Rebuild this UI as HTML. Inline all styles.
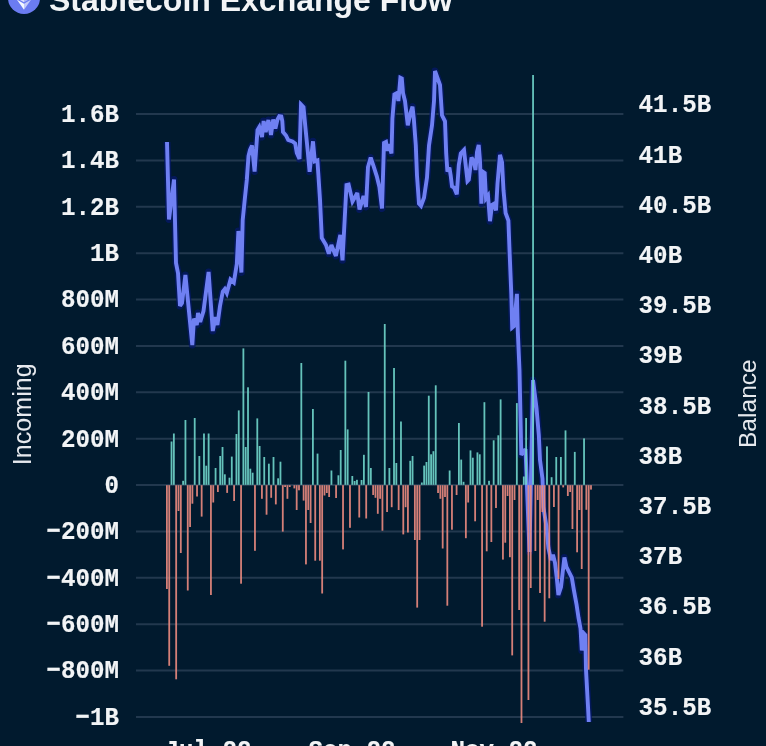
<!DOCTYPE html>
<html><head><meta charset="utf-8"><title>Stablecoin Exchange Flow</title>
<style>
html,body{margin:0;padding:0;}
body{width:766px;height:746px;overflow:hidden;background:#011a2e;position:relative;}
.ax{font-family:"Liberation Mono","DejaVu Sans Mono",monospace;font-weight:bold;font-size:24.2px;fill:#f2f4f6;stroke:#f2f4f6;stroke-width:0.15px;}
.tt{font-family:"Liberation Sans",Arial,sans-serif;font-size:24px;fill:#e6e9ee;}
.title{position:absolute;left:49px;top:-20.4px;font-family:"Liberation Sans",Arial,sans-serif;font-weight:bold;font-size:32px;color:#f2f4f6;white-space:nowrap;line-height:40px;}
.logo{position:absolute;left:8px;top:-18px;width:32px;height:32px;}
</style></head><body>
<svg class="logo" viewBox="0 0 32 32"><circle cx="16" cy="16" r="16" fill="#6b7cf2"/><path d="M16 4 L9 16.2 L16 20.3 Z" fill="#ffffff" opacity="0.75"/><path d="M16 4 L23 16.2 L16 20.3 Z" fill="#ffffff" opacity="0.45"/><path d="M16 21.8 L8.8 17.5 L16 27.8 Z" fill="#f4f8ff"/><path d="M16 21.8 L23.2 17.5 L16 27.8 Z" fill="#ffffff" opacity="0.6"/></svg>
<div class="title">Stablecoin Exchange Flow</div>
<svg width="766" height="746" viewBox="0 0 766 746" style="position:absolute;left:0;top:0"><line x1="136.0" x2="623.4" y1="114.00" y2="114.00" stroke="#22384e" stroke-width="2"/><line x1="136.0" x2="623.4" y1="160.38" y2="160.38" stroke="#22384e" stroke-width="2"/><line x1="136.0" x2="623.4" y1="206.76" y2="206.76" stroke="#22384e" stroke-width="2"/><line x1="136.0" x2="623.4" y1="253.14" y2="253.14" stroke="#22384e" stroke-width="2"/><line x1="136.0" x2="623.4" y1="299.52" y2="299.52" stroke="#22384e" stroke-width="2"/><line x1="136.0" x2="623.4" y1="345.90" y2="345.90" stroke="#22384e" stroke-width="2"/><line x1="136.0" x2="623.4" y1="392.28" y2="392.28" stroke="#22384e" stroke-width="2"/><line x1="136.0" x2="623.4" y1="438.66" y2="438.66" stroke="#22384e" stroke-width="2"/><line x1="136.0" x2="623.4" y1="485.04" y2="485.04" stroke="#22384e" stroke-width="2"/><line x1="136.0" x2="623.4" y1="531.42" y2="531.42" stroke="#22384e" stroke-width="2"/><line x1="136.0" x2="623.4" y1="577.80" y2="577.80" stroke="#22384e" stroke-width="2"/><line x1="136.0" x2="623.4" y1="624.18" y2="624.18" stroke="#22384e" stroke-width="2"/><line x1="136.0" x2="623.4" y1="670.56" y2="670.56" stroke="#22384e" stroke-width="2"/><line x1="136.0" x2="623.4" y1="716.94" y2="716.94" stroke="#22384e" stroke-width="2"/><polyline points="167.0,142.0 169.0,219.5 174.0,179.5 176.0,263.0 178.0,273.0 180.0,306.0 182.0,303.0 185.4,275.0 192.3,345.0 194.0,318.6 196.8,325.0 198.0,313.0 200.2,322.0 203.5,311.0 208.6,272.0 210.5,299.0 212.8,331.0 215.4,317.0 217.4,325.0 220.0,306.0 222.8,291.5 224.8,289.0 226.8,293.0 230.5,279.5 233.8,282.5 236.8,264.0 238.4,231.0 241.4,272.5 242.7,220.0 244.7,200.0 246.8,180.0 248.5,156.0 250.0,150.0 252.0,145.5 254.6,171.5 257.5,130.0 259.3,127.0 262.0,137.0 263.6,121.0 265.7,132.0 268.4,120.0 271.0,135.0 273.2,119.5 275.4,128.5 277.5,119.5 279.3,116.2 281.3,116.5 282.3,121.0 283.0,132.0 286.0,135.5 288.2,140.0 292.5,141.5 295.2,143.5 296.8,153.0 299.5,159.0 301.0,104.4 303.5,107.0 305.5,128.5 307.5,148.6 309.6,171.8 313.0,141.3 314.8,161.4 317.4,160.5 318.3,173.6 320.0,199.7 321.8,238.0 326.0,245.0 328.8,253.7 331.4,245.0 334.9,253.7 335.9,255.9 338.1,245.5 340.3,235.0 342.5,260.3 344.7,219.0 346.5,185.0 348.6,184.5 352.5,201.5 357.3,193.0 359.5,209.5 361.5,203.0 363.5,196.0 366.0,207.0 368.0,167.0 370.7,157.5 373.4,165.6 376.8,176.3 379.4,187.0 382.0,208.5 384.0,143.0 386.0,142.0 387.5,151.0 388.8,144.0 391.5,153.5 392.4,118.6 394.4,94.5 397.0,93.0 398.4,101.0 400.4,77.7 401.8,78.4 403.0,93.0 405.0,101.0 407.8,125.3 410.5,113.0 412.5,106.6 413.8,118.6 415.8,145.4 417.0,175.6 419.0,203.7 421.0,205.8 424.0,197.7 427.0,177.6 429.0,145.4 432.0,125.3 434.0,101.2 435.0,71.0 440.0,85.0 442.0,115.3 445.0,121.3 446.2,153.5 447.4,171.6 449.4,167.5 450.7,175.6 452.0,186.3 454.0,187.6 456.8,194.3 458.8,164.9 460.8,153.5 464.0,150.0 465.5,163.5 467.5,181.0 468.8,179.6 471.5,157.5 474.0,162.0 475.5,170.0 477.0,152.0 478.7,145.0 480.0,160.8 481.4,203.7 482.7,171.6 484.7,173.0 486.0,198.4 488.0,195.7 490.0,221.2 492.0,205.0 494.0,203.7 496.0,210.4 497.5,183.6 500.0,154.8 502.0,162.0 503.5,190.3 505.6,213.0 508.4,220.6 509.4,247.0 511.3,293.8 512.2,327.6 514.0,326.0 516.9,293.8 517.8,331.4 519.5,370.0 521.3,455.0 525.5,449.0 529.5,552.0 533.0,380.0 536.5,408.0 538.8,435.0 540.0,460.0 542.5,478.8 543.4,507.0 546.3,525.7 548.4,548.0 551.0,560.0 553.0,554.7 555.0,562.8 557.0,580.0 558.4,595.0 561.0,587.0 564.4,557.4 566.4,566.8 569.0,572.0 571.8,577.5 573.8,589.6 576.5,604.3 578.5,617.7 580.5,628.5 581.8,650.5 583.5,633.0 585.3,635.0 586.0,669.7 587.9,704.6 588.8,722.0" fill="none" stroke="#06186a" stroke-opacity="0.75" stroke-width="7" stroke-linejoin="round"/><polyline points="167.0,142.0 169.0,219.5 174.0,179.5 176.0,263.0 178.0,273.0 180.0,306.0 182.0,303.0 185.4,275.0 192.3,345.0 194.0,318.6 196.8,325.0 198.0,313.0 200.2,322.0 203.5,311.0 208.6,272.0 210.5,299.0 212.8,331.0 215.4,317.0 217.4,325.0 220.0,306.0 222.8,291.5 224.8,289.0 226.8,293.0 230.5,279.5 233.8,282.5 236.8,264.0 238.4,231.0 241.4,272.5 242.7,220.0 244.7,200.0 246.8,180.0 248.5,156.0 250.0,150.0 252.0,145.5 254.6,171.5 257.5,130.0 259.3,127.0 262.0,137.0 263.6,121.0 265.7,132.0 268.4,120.0 271.0,135.0 273.2,119.5 275.4,128.5 277.5,119.5 279.3,116.2 281.3,116.5 282.3,121.0 283.0,132.0 286.0,135.5 288.2,140.0 292.5,141.5 295.2,143.5 296.8,153.0 299.5,159.0 301.0,104.4 303.5,107.0 305.5,128.5 307.5,148.6 309.6,171.8 313.0,141.3 314.8,161.4 317.4,160.5 318.3,173.6 320.0,199.7 321.8,238.0 326.0,245.0 328.8,253.7 331.4,245.0 334.9,253.7 335.9,255.9 338.1,245.5 340.3,235.0 342.5,260.3 344.7,219.0 346.5,185.0 348.6,184.5 352.5,201.5 357.3,193.0 359.5,209.5 361.5,203.0 363.5,196.0 366.0,207.0 368.0,167.0 370.7,157.5 373.4,165.6 376.8,176.3 379.4,187.0 382.0,208.5 384.0,143.0 386.0,142.0 387.5,151.0 388.8,144.0 391.5,153.5 392.4,118.6 394.4,94.5 397.0,93.0 398.4,101.0 400.4,77.7 401.8,78.4 403.0,93.0 405.0,101.0 407.8,125.3 410.5,113.0 412.5,106.6 413.8,118.6 415.8,145.4 417.0,175.6 419.0,203.7 421.0,205.8 424.0,197.7 427.0,177.6 429.0,145.4 432.0,125.3 434.0,101.2 435.0,71.0 440.0,85.0 442.0,115.3 445.0,121.3 446.2,153.5 447.4,171.6 449.4,167.5 450.7,175.6 452.0,186.3 454.0,187.6 456.8,194.3 458.8,164.9 460.8,153.5 464.0,150.0 465.5,163.5 467.5,181.0 468.8,179.6 471.5,157.5 474.0,162.0 475.5,170.0 477.0,152.0 478.7,145.0 480.0,160.8 481.4,203.7 482.7,171.6 484.7,173.0 486.0,198.4 488.0,195.7 490.0,221.2 492.0,205.0 494.0,203.7 496.0,210.4 497.5,183.6 500.0,154.8 502.0,162.0 503.5,190.3 505.6,213.0 508.4,220.6 509.4,247.0 511.3,293.8 512.2,327.6 514.0,326.0 516.9,293.8 517.8,331.4 519.5,370.0 521.3,455.0 525.5,449.0 529.5,552.0 533.0,380.0 536.5,408.0 538.8,435.0 540.0,460.0 542.5,478.8 543.4,507.0 546.3,525.7 548.4,548.0 551.0,560.0 553.0,554.7 555.0,562.8 557.0,580.0 558.4,595.0 561.0,587.0 564.4,557.4 566.4,566.8 569.0,572.0 571.8,577.5 573.8,589.6 576.5,604.3 578.5,617.7 580.5,628.5 581.8,650.5 583.5,633.0 585.3,635.0 586.0,669.7 587.9,704.6 588.8,722.0" fill="none" stroke="#6f80f2" stroke-width="3.9" stroke-linejoin="miter" stroke-miterlimit="3" stroke-linecap="butt"/><g opacity="0.9"><rect x="166.00" y="485.2" width="1.8" height="103.8" fill="#ec8b80"/><rect x="168.32" y="485.2" width="1.8" height="180.6" fill="#ec8b80"/><rect x="170.63" y="441.5" width="1.8" height="43.3" fill="#70d6cb"/><rect x="172.95" y="433.5" width="1.8" height="51.3" fill="#70d6cb"/><rect x="175.27" y="485.2" width="1.8" height="194.1" fill="#ec8b80"/><rect x="177.59" y="485.2" width="1.8" height="25.8" fill="#ec8b80"/><rect x="179.91" y="485.2" width="1.8" height="67.8" fill="#ec8b80"/><rect x="182.22" y="480.8" width="1.8" height="4.0" fill="#70d6cb"/><rect x="184.54" y="420.0" width="1.8" height="64.8" fill="#70d6cb"/><rect x="186.86" y="485.2" width="1.8" height="105.3" fill="#ec8b80"/><rect x="189.17" y="485.2" width="1.8" height="41.8" fill="#ec8b80"/><rect x="191.49" y="485.2" width="1.8" height="18.5" fill="#ec8b80"/><rect x="193.81" y="418.0" width="1.8" height="66.8" fill="#70d6cb"/><rect x="196.13" y="485.2" width="1.8" height="11.3" fill="#ec8b80"/><rect x="198.44" y="456.0" width="1.8" height="28.8" fill="#70d6cb"/><rect x="200.76" y="485.2" width="1.8" height="31.4" fill="#ec8b80"/><rect x="203.08" y="433.5" width="1.8" height="51.3" fill="#70d6cb"/><rect x="205.40" y="465.7" width="1.8" height="19.1" fill="#70d6cb"/><rect x="207.72" y="433.5" width="1.8" height="51.3" fill="#70d6cb"/><rect x="210.03" y="485.2" width="1.8" height="109.8" fill="#ec8b80"/><rect x="212.35" y="485.2" width="1.8" height="17.3" fill="#ec8b80"/><rect x="214.67" y="468.0" width="1.8" height="16.8" fill="#70d6cb"/><rect x="216.98" y="485.2" width="1.8" height="6.8" fill="#ec8b80"/><rect x="219.30" y="456.0" width="1.8" height="28.8" fill="#70d6cb"/><rect x="221.62" y="447.0" width="1.8" height="37.8" fill="#70d6cb"/><rect x="223.94" y="474.3" width="1.8" height="10.5" fill="#70d6cb"/><rect x="226.25" y="485.2" width="1.8" height="7.7" fill="#ec8b80"/><rect x="228.57" y="477.7" width="1.8" height="7.1" fill="#70d6cb"/><rect x="230.89" y="456.6" width="1.8" height="28.2" fill="#70d6cb"/><rect x="233.21" y="485.2" width="1.8" height="15.8" fill="#ec8b80"/><rect x="235.53" y="434.0" width="1.8" height="50.8" fill="#70d6cb"/><rect x="237.84" y="410.4" width="1.8" height="74.4" fill="#70d6cb"/><rect x="240.16" y="485.2" width="1.8" height="98.5" fill="#ec8b80"/><rect x="242.48" y="348.4" width="1.8" height="136.4" fill="#70d6cb"/><rect x="244.79" y="447.0" width="1.8" height="37.8" fill="#70d6cb"/><rect x="247.11" y="387.3" width="1.8" height="97.5" fill="#70d6cb"/><rect x="249.43" y="468.7" width="1.8" height="16.1" fill="#70d6cb"/><rect x="251.75" y="472.7" width="1.8" height="12.1" fill="#70d6cb"/><rect x="254.06" y="485.2" width="1.8" height="65.6" fill="#ec8b80"/><rect x="256.38" y="418.4" width="1.8" height="66.4" fill="#70d6cb"/><rect x="258.70" y="446.0" width="1.8" height="38.8" fill="#70d6cb"/><rect x="261.02" y="485.2" width="1.8" height="13.6" fill="#ec8b80"/><rect x="263.34" y="457.0" width="1.8" height="27.8" fill="#70d6cb"/><rect x="265.65" y="485.2" width="1.8" height="29.5" fill="#ec8b80"/><rect x="267.97" y="463.7" width="1.8" height="21.1" fill="#70d6cb"/><rect x="270.29" y="485.2" width="1.8" height="12.6" fill="#ec8b80"/><rect x="272.61" y="457.0" width="1.8" height="27.8" fill="#70d6cb"/><rect x="274.92" y="485.2" width="1.8" height="19.2" fill="#ec8b80"/><rect x="277.24" y="478.3" width="1.8" height="6.5" fill="#70d6cb"/><rect x="279.56" y="461.7" width="1.8" height="23.1" fill="#70d6cb"/><rect x="281.88" y="485.2" width="1.8" height="46.4" fill="#ec8b80"/><rect x="284.19" y="485.2" width="1.8" height="1.8" fill="#ec8b80"/><rect x="286.51" y="485.2" width="1.8" height="13.6" fill="#ec8b80"/><rect x="288.83" y="485.2" width="1.8" height="1.8" fill="#ec8b80"/><rect x="293.46" y="485.2" width="1.8" height="3.2" fill="#ec8b80"/><rect x="295.78" y="485.2" width="1.8" height="24.8" fill="#ec8b80"/><rect x="298.10" y="485.2" width="1.8" height="5.1" fill="#ec8b80"/><rect x="300.42" y="363.0" width="1.8" height="121.8" fill="#70d6cb"/><rect x="302.73" y="485.2" width="1.8" height="15.4" fill="#ec8b80"/><rect x="305.05" y="485.2" width="1.8" height="79.2" fill="#ec8b80"/><rect x="307.37" y="485.2" width="1.8" height="24.8" fill="#ec8b80"/><rect x="309.69" y="485.2" width="1.8" height="37.8" fill="#ec8b80"/><rect x="312.00" y="409.0" width="1.8" height="75.8" fill="#70d6cb"/><rect x="314.32" y="485.2" width="1.8" height="75.5" fill="#ec8b80"/><rect x="316.64" y="453.6" width="1.8" height="31.2" fill="#70d6cb"/><rect x="318.96" y="485.2" width="1.8" height="75.5" fill="#ec8b80"/><rect x="321.27" y="485.2" width="1.8" height="108.3" fill="#ec8b80"/><rect x="323.59" y="485.2" width="1.8" height="10.3" fill="#ec8b80"/><rect x="325.91" y="485.2" width="1.8" height="7.8" fill="#ec8b80"/><rect x="328.23" y="485.2" width="1.8" height="11.8" fill="#ec8b80"/><rect x="330.54" y="470.5" width="1.8" height="14.3" fill="#70d6cb"/><rect x="335.18" y="485.2" width="1.8" height="12.8" fill="#ec8b80"/><rect x="337.50" y="475.3" width="1.8" height="9.5" fill="#70d6cb"/><rect x="339.81" y="450.0" width="1.8" height="34.8" fill="#70d6cb"/><rect x="342.13" y="485.2" width="1.8" height="64.2" fill="#ec8b80"/><rect x="344.45" y="360.7" width="1.8" height="124.1" fill="#70d6cb"/><rect x="346.76" y="429.4" width="1.8" height="55.4" fill="#70d6cb"/><rect x="349.08" y="485.2" width="1.8" height="42.6" fill="#ec8b80"/><rect x="351.40" y="476.0" width="1.8" height="8.8" fill="#70d6cb"/><rect x="353.72" y="481.0" width="1.8" height="3.8" fill="#70d6cb"/><rect x="356.04" y="479.8" width="1.8" height="5.0" fill="#70d6cb"/><rect x="358.35" y="485.2" width="1.8" height="32.3" fill="#ec8b80"/><rect x="360.67" y="480.0" width="1.8" height="4.8" fill="#70d6cb"/><rect x="362.99" y="454.8" width="1.8" height="30.0" fill="#70d6cb"/><rect x="365.31" y="485.2" width="1.8" height="33.3" fill="#ec8b80"/><rect x="367.62" y="392.0" width="1.8" height="92.8" fill="#70d6cb"/><rect x="369.94" y="468.0" width="1.8" height="16.8" fill="#70d6cb"/><rect x="372.26" y="485.2" width="1.8" height="9.8" fill="#ec8b80"/><rect x="374.58" y="485.2" width="1.8" height="12.6" fill="#ec8b80"/><rect x="376.89" y="485.2" width="1.8" height="28.6" fill="#ec8b80"/><rect x="379.21" y="485.2" width="1.8" height="13.6" fill="#ec8b80"/><rect x="381.53" y="485.2" width="1.8" height="45.5" fill="#ec8b80"/><rect x="383.85" y="324.0" width="1.8" height="160.8" fill="#70d6cb"/><rect x="386.16" y="485.2" width="1.8" height="26.8" fill="#ec8b80"/><rect x="388.48" y="468.0" width="1.8" height="16.8" fill="#70d6cb"/><rect x="390.80" y="485.2" width="1.8" height="22.0" fill="#ec8b80"/><rect x="393.12" y="368.0" width="1.8" height="116.8" fill="#70d6cb"/><rect x="395.43" y="463.0" width="1.8" height="21.8" fill="#70d6cb"/><rect x="397.75" y="485.2" width="1.8" height="24.8" fill="#ec8b80"/><rect x="400.07" y="421.5" width="1.8" height="63.3" fill="#70d6cb"/><rect x="402.38" y="485.2" width="1.8" height="49.2" fill="#ec8b80"/><rect x="404.70" y="485.2" width="1.8" height="22.0" fill="#ec8b80"/><rect x="407.02" y="485.2" width="1.8" height="47.3" fill="#ec8b80"/><rect x="409.34" y="460.8" width="1.8" height="24.0" fill="#70d6cb"/><rect x="411.66" y="456.0" width="1.8" height="28.8" fill="#70d6cb"/><rect x="413.97" y="485.2" width="1.8" height="54.8" fill="#ec8b80"/><rect x="416.29" y="485.2" width="1.8" height="122.4" fill="#ec8b80"/><rect x="418.61" y="485.2" width="1.8" height="54.8" fill="#ec8b80"/><rect x="420.93" y="482.5" width="1.8" height="2.3" fill="#70d6cb"/><rect x="423.24" y="465.6" width="1.8" height="19.2" fill="#70d6cb"/><rect x="425.56" y="462.0" width="1.8" height="22.8" fill="#70d6cb"/><rect x="427.88" y="395.7" width="1.8" height="89.1" fill="#70d6cb"/><rect x="430.20" y="454.3" width="1.8" height="30.5" fill="#70d6cb"/><rect x="432.51" y="451.2" width="1.8" height="33.6" fill="#70d6cb"/><rect x="434.83" y="385.3" width="1.8" height="99.5" fill="#70d6cb"/><rect x="437.15" y="485.2" width="1.8" height="7.8" fill="#ec8b80"/><rect x="439.47" y="485.2" width="1.8" height="13.6" fill="#ec8b80"/><rect x="441.78" y="485.2" width="1.8" height="63.3" fill="#ec8b80"/><rect x="444.10" y="485.2" width="1.8" height="11.8" fill="#ec8b80"/><rect x="446.42" y="485.2" width="1.8" height="120.5" fill="#ec8b80"/><rect x="448.74" y="470.5" width="1.8" height="14.3" fill="#70d6cb"/><rect x="451.05" y="485.2" width="1.8" height="44.5" fill="#ec8b80"/><rect x="455.69" y="485.2" width="1.8" height="9.8" fill="#ec8b80"/><rect x="458.00" y="423.0" width="1.8" height="61.8" fill="#70d6cb"/><rect x="460.32" y="459.6" width="1.8" height="25.2" fill="#70d6cb"/><rect x="462.64" y="481.8" width="1.8" height="3.0" fill="#70d6cb"/><rect x="464.96" y="485.2" width="1.8" height="53.0" fill="#ec8b80"/><rect x="467.27" y="485.2" width="1.8" height="17.3" fill="#ec8b80"/><rect x="469.59" y="450.4" width="1.8" height="34.4" fill="#70d6cb"/><rect x="471.91" y="457.7" width="1.8" height="27.1" fill="#70d6cb"/><rect x="474.23" y="485.2" width="1.8" height="36.1" fill="#ec8b80"/><rect x="476.54" y="452.4" width="1.8" height="32.4" fill="#70d6cb"/><rect x="478.86" y="454.3" width="1.8" height="30.5" fill="#70d6cb"/><rect x="481.18" y="485.2" width="1.8" height="141.5" fill="#ec8b80"/><rect x="483.50" y="402.2" width="1.8" height="82.6" fill="#70d6cb"/><rect x="485.82" y="485.2" width="1.8" height="66.1" fill="#ec8b80"/><rect x="488.13" y="480.8" width="1.8" height="4.0" fill="#70d6cb"/><rect x="490.45" y="485.2" width="1.8" height="56.8" fill="#ec8b80"/><rect x="492.77" y="440.3" width="1.8" height="44.5" fill="#70d6cb"/><rect x="495.09" y="485.2" width="1.8" height="22.8" fill="#ec8b80"/><rect x="497.40" y="435.3" width="1.8" height="49.5" fill="#70d6cb"/><rect x="499.72" y="399.4" width="1.8" height="85.4" fill="#70d6cb"/><rect x="502.04" y="485.2" width="1.8" height="74.4" fill="#ec8b80"/><rect x="504.36" y="485.2" width="1.8" height="57.5" fill="#ec8b80"/><rect x="506.67" y="485.2" width="1.8" height="10.8" fill="#ec8b80"/><rect x="508.99" y="485.2" width="1.8" height="72.0" fill="#ec8b80"/><rect x="511.31" y="485.2" width="1.8" height="170.2" fill="#ec8b80"/><rect x="513.62" y="485.2" width="1.8" height="14.8" fill="#ec8b80"/><rect x="515.94" y="403.1" width="1.8" height="81.7" fill="#70d6cb"/><rect x="518.26" y="485.2" width="1.8" height="124.8" fill="#ec8b80"/><rect x="520.58" y="485.2" width="1.8" height="237.8" fill="#ec8b80"/><rect x="522.89" y="476.5" width="1.8" height="8.3" fill="#70d6cb"/><rect x="525.21" y="418.0" width="1.8" height="66.8" fill="#70d6cb"/><rect x="527.53" y="485.2" width="1.8" height="214.8" fill="#ec8b80"/><rect x="529.85" y="485.2" width="1.8" height="102.8" fill="#ec8b80"/><rect x="532.16" y="75.0" width="1.8" height="409.8" fill="#70d6cb"/><rect x="534.48" y="485.2" width="1.8" height="65.8" fill="#ec8b80"/><rect x="536.80" y="485.2" width="1.8" height="14.8" fill="#ec8b80"/><rect x="539.12" y="485.2" width="1.8" height="107.8" fill="#ec8b80"/><rect x="541.44" y="485.2" width="1.8" height="26.8" fill="#ec8b80"/><rect x="543.75" y="485.2" width="1.8" height="136.5" fill="#ec8b80"/><rect x="546.07" y="446.4" width="1.8" height="38.4" fill="#70d6cb"/><rect x="548.39" y="485.2" width="1.8" height="113.1" fill="#ec8b80"/><rect x="550.71" y="477.2" width="1.8" height="7.6" fill="#70d6cb"/><rect x="553.02" y="485.2" width="1.8" height="21.8" fill="#ec8b80"/><rect x="555.34" y="457.0" width="1.8" height="27.8" fill="#70d6cb"/><rect x="557.66" y="485.2" width="1.8" height="93.8" fill="#ec8b80"/><rect x="559.98" y="457.0" width="1.8" height="27.8" fill="#70d6cb"/><rect x="562.29" y="485.2" width="1.8" height="2.2" fill="#ec8b80"/><rect x="564.61" y="430.4" width="1.8" height="54.4" fill="#70d6cb"/><rect x="566.93" y="485.2" width="1.8" height="10.8" fill="#ec8b80"/><rect x="569.25" y="485.2" width="1.8" height="6.8" fill="#ec8b80"/><rect x="571.56" y="485.2" width="1.8" height="43.8" fill="#ec8b80"/><rect x="573.88" y="451.9" width="1.8" height="32.9" fill="#70d6cb"/><rect x="576.20" y="485.2" width="1.8" height="67.1" fill="#ec8b80"/><rect x="578.51" y="485.2" width="1.8" height="24.8" fill="#ec8b80"/><rect x="580.83" y="485.2" width="1.8" height="83.8" fill="#ec8b80"/><rect x="583.15" y="438.4" width="1.8" height="46.4" fill="#70d6cb"/><rect x="585.47" y="485.2" width="1.8" height="24.6" fill="#ec8b80"/><rect x="587.78" y="485.2" width="1.8" height="184.5" fill="#ec8b80"/><rect x="590.10" y="485.2" width="1.8" height="4.4" fill="#ec8b80"/></g><text transform="translate(119.0 115.10) scale(1 1.08)" class="ax" text-anchor="end" dominant-baseline="central">1.6B</text><text transform="translate(119.0 161.48) scale(1 1.08)" class="ax" text-anchor="end" dominant-baseline="central">1.4B</text><text transform="translate(119.0 207.86) scale(1 1.08)" class="ax" text-anchor="end" dominant-baseline="central">1.2B</text><text transform="translate(119.0 254.24) scale(1 1.08)" class="ax" text-anchor="end" dominant-baseline="central">1B</text><text transform="translate(119.0 300.62) scale(1 1.08)" class="ax" text-anchor="end" dominant-baseline="central">800M</text><text transform="translate(119.0 347.00) scale(1 1.08)" class="ax" text-anchor="end" dominant-baseline="central">600M</text><text transform="translate(119.0 393.38) scale(1 1.08)" class="ax" text-anchor="end" dominant-baseline="central">400M</text><text transform="translate(119.0 439.76) scale(1 1.08)" class="ax" text-anchor="end" dominant-baseline="central">200M</text><text transform="translate(119.0 486.14) scale(1 1.08)" class="ax" text-anchor="end" dominant-baseline="central">0</text><text transform="translate(119.0 532.52) scale(1 1.08)" class="ax" text-anchor="end" dominant-baseline="central">−200M</text><text transform="translate(119.0 578.90) scale(1 1.08)" class="ax" text-anchor="end" dominant-baseline="central">−400M</text><text transform="translate(119.0 625.28) scale(1 1.08)" class="ax" text-anchor="end" dominant-baseline="central">−600M</text><text transform="translate(119.0 671.66) scale(1 1.08)" class="ax" text-anchor="end" dominant-baseline="central">−800M</text><text transform="translate(119.0 718.04) scale(1 1.08)" class="ax" text-anchor="end" dominant-baseline="central">−1B</text><text transform="translate(638.6 105.70) scale(1 1.08)" class="ax" dominant-baseline="central">41.5B</text><text transform="translate(638.6 155.89) scale(1 1.08)" class="ax" dominant-baseline="central">41B</text><text transform="translate(638.6 206.08) scale(1 1.08)" class="ax" dominant-baseline="central">40.5B</text><text transform="translate(638.6 256.27) scale(1 1.08)" class="ax" dominant-baseline="central">40B</text><text transform="translate(638.6 306.46) scale(1 1.08)" class="ax" dominant-baseline="central">39.5B</text><text transform="translate(638.6 356.65) scale(1 1.08)" class="ax" dominant-baseline="central">39B</text><text transform="translate(638.6 406.84) scale(1 1.08)" class="ax" dominant-baseline="central">38.5B</text><text transform="translate(638.6 457.03) scale(1 1.08)" class="ax" dominant-baseline="central">38B</text><text transform="translate(638.6 507.22) scale(1 1.08)" class="ax" dominant-baseline="central">37.5B</text><text transform="translate(638.6 557.41) scale(1 1.08)" class="ax" dominant-baseline="central">37B</text><text transform="translate(638.6 607.60) scale(1 1.08)" class="ax" dominant-baseline="central">36.5B</text><text transform="translate(638.6 657.79) scale(1 1.08)" class="ax" dominant-baseline="central">36B</text><text transform="translate(638.6 707.98) scale(1 1.08)" class="ax" dominant-baseline="central">35.5B</text><text transform="translate(208.0 751) scale(1 1.08)" class="ax" text-anchor="middle" dominant-baseline="central">Jul 22</text><text transform="translate(352 751) scale(1 1.08)" class="ax" text-anchor="middle" dominant-baseline="central">Sep 22</text><text transform="translate(494 751) scale(1 1.08)" class="ax" text-anchor="middle" dominant-baseline="central">Nov 22</text><text transform="translate(31.4 414.25) rotate(-90)" class="tt" text-anchor="middle" textLength="101.8" lengthAdjust="spacingAndGlyphs" style="font-size:25.5px">Incoming</text><text transform="translate(756.0 403.65) rotate(-90)" class="tt" text-anchor="middle" textLength="88.8" lengthAdjust="spacingAndGlyphs" style="font-size:24.6px">Balance</text></svg>
</body></html>
